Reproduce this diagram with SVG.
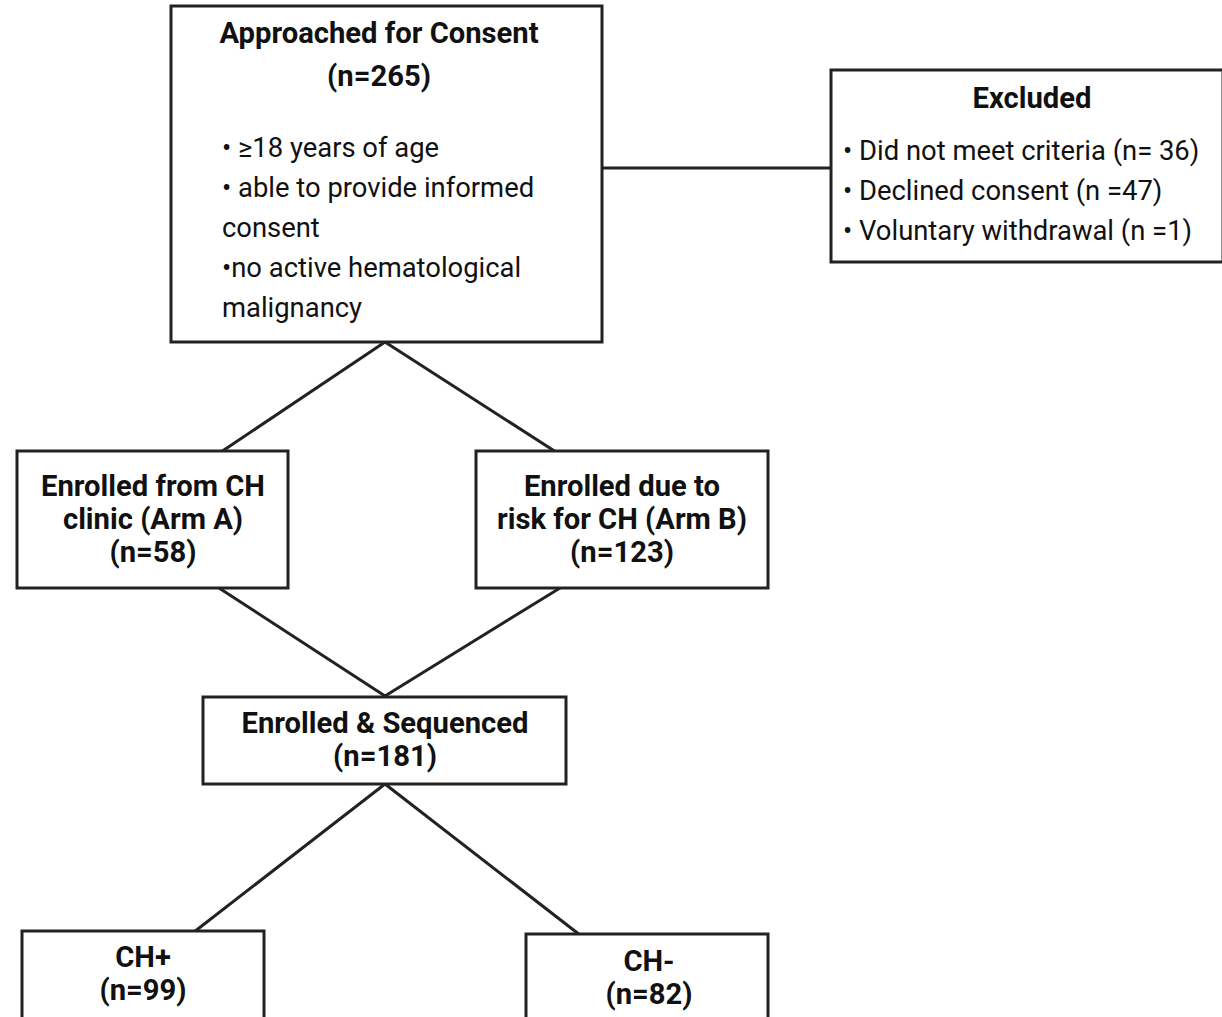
<svg xmlns="http://www.w3.org/2000/svg" width="1222" height="1017" viewBox="0 0 1222 1017">
<style>
.box{fill:#fff;stroke:#222;stroke-width:3}
.ln{stroke:#222;stroke-width:3;fill:none}
.b{font-family:Roboto,"Liberation Sans",sans-serif;font-weight:bold;font-size:29.2px;fill:#111;text-anchor:middle}
.r{font-family:Roboto,"Liberation Sans",sans-serif;font-size:27.4px;fill:#111}
</style>
<rect width="1222" height="1017" fill="#fff"/>
<g id="connectors">
<line class="ln" x1="602" y1="168" x2="831" y2="168"/>
<line class="ln" x1="385" y1="342" x2="221" y2="452"/>
<line class="ln" x1="385" y1="342" x2="556" y2="452"/>
<line class="ln" x1="219" y1="588" x2="385" y2="696"/>
<line class="ln" x1="560" y1="588" x2="385" y2="696"/>
<line class="ln" x1="385" y1="784" x2="194" y2="932"/>
<line class="ln" x1="385" y1="784" x2="580" y2="935"/>
</g>
<g id="approached">
<rect class="box" x="171" y="6" width="431" height="336"/>
<text class="b" x="379" y="43">Approached for Consent</text>
<text class="b" x="379" y="86">(n=265)</text>
<text class="r" x="222" y="157">• ≥18 years of age</text>
<text class="r" x="222" y="197">• able to provide informed</text>
<text class="r" x="222" y="237">consent</text>
<text class="r" x="222" y="277">•no active hematological</text>
<text class="r" x="222" y="317">malignancy</text>
</g>
<g id="excluded">
<rect class="box" x="831" y="70" width="392" height="192"/>
<text class="b" x="1032" y="108">Excluded</text>
<text class="r" x="843" y="160">• Did not meet criteria (n= 36)</text>
<text class="r" x="843" y="200">• Declined consent (n =47)</text>
<text class="r" x="843" y="240">• Voluntary withdrawal (n =1)</text>
</g>
<g id="armA">
<rect class="box" x="17" y="451" width="271" height="137"/>
<text class="b" x="153" y="496">Enrolled from CH</text>
<text class="b" x="153" y="529">clinic (Arm A)</text>
<text class="b" x="153" y="562">(n=58)</text>
</g>
<g id="armB">
<rect class="box" x="476" y="451" width="292" height="137"/>
<text class="b" x="622" y="496">Enrolled due to</text>
<text class="b" x="622" y="529">risk for CH (Arm B)</text>
<text class="b" x="622" y="562">(n=123)</text>
</g>
<g id="sequenced">
<rect class="box" x="203" y="697" width="363" height="87"/>
<text class="b" x="385" y="733">Enrolled &amp; Sequenced</text>
<text class="b" x="385" y="766">(n=181)</text>
</g>
<g id="chpos">
<rect class="box" x="22" y="931" width="242" height="100"/>
<text class="b" x="143" y="967">CH+</text>
<text class="b" x="143" y="1000">(n=99)</text>
</g>
<g id="chneg">
<rect class="box" x="526" y="934" width="242" height="100"/>
<text class="b" x="649" y="971">CH-</text>
<text class="b" x="649" y="1004">(n=82)</text>
</g>
</svg>
